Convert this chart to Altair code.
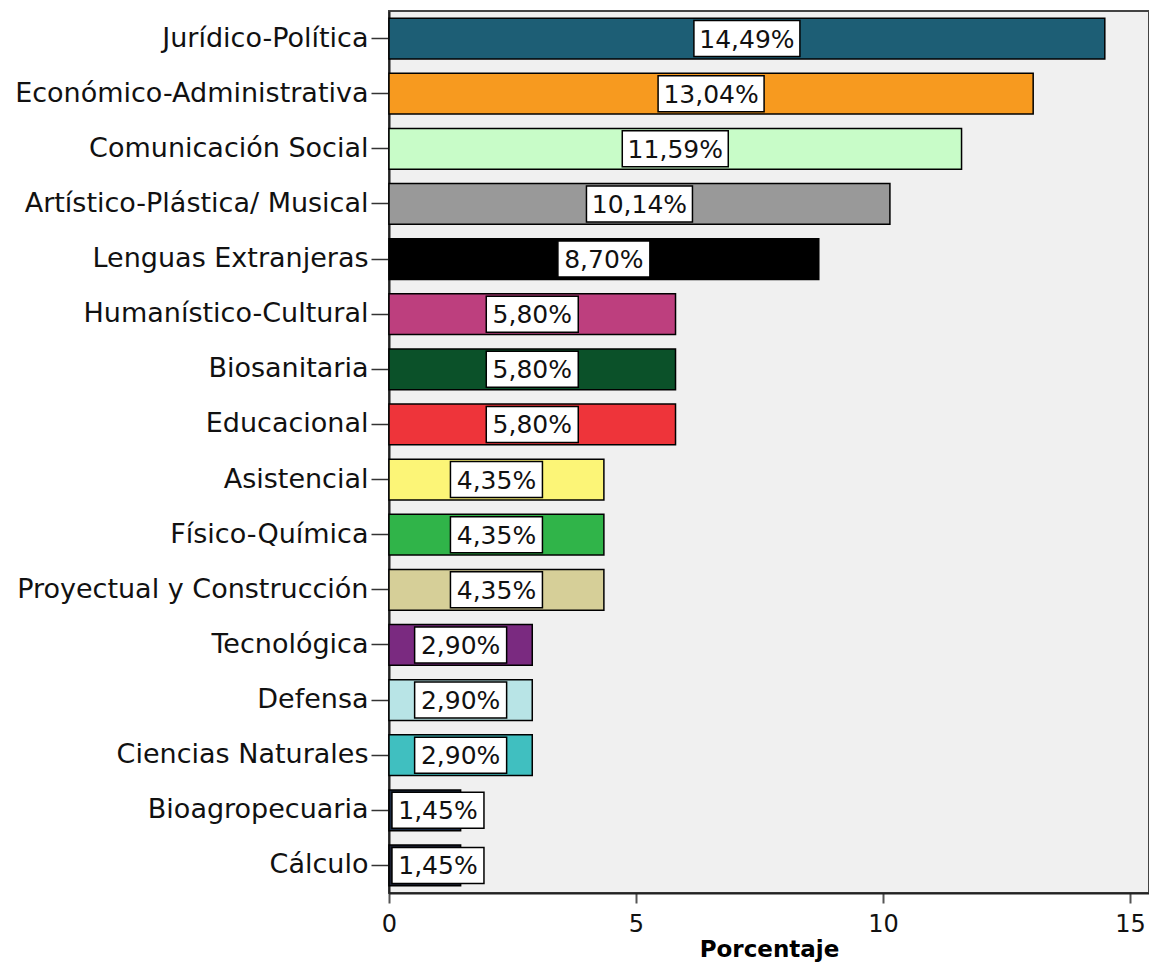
import altair as alt
import pandas as pd

categories = [
    "Jurídico-Política", "Económico-Administrativa", "Comunicación Social",
    "Artístico-Plástica/ Musical", "Lenguas Extranjeras", "Humanístico-Cultural",
    "Biosanitaria", "Educacional", "Asistencial", "Físico-Química",
    "Proyectual y Construcción", "Tecnológica", "Defensa", "Ciencias Naturales",
    "Bioagropecuaria", "Cálculo",
]
values = [14.49, 13.04, 11.59, 10.14, 8.70, 5.80, 5.80, 5.80, 4.35, 4.35, 4.35,
          2.90, 2.90, 2.90, 1.45, 1.45]
labels = ["14,49%", "13,04%", "11,59%", "10,14%", "8,70%", "5,80%", "5,80%", "5,80%",
          "4,35%", "4,35%", "4,35%", "2,90%", "2,90%", "2,90%", "1,45%", "1,45%"]
colors = ["#1d5e75", "#f79a1f", "#c8fcc8", "#999999", "#000000", "#bd3f7e",
          "#0b5129", "#ee343a", "#fcf577", "#30b449", "#d6cf98", "#7a2a80",
          "#b8e4e6", "#40bfc0", "#1b2a41", "#1a1f30"]
x_ticks = [0, 5, 10, 15]

df = pd.DataFrame({"cat": categories, "val": values, "lab": labels})

FONT = "DejaVu Sans"
W, H = 760, 882
PXU = 49.4
XMAX = W / PXU

yenc = alt.Y(
    "cat:N", sort=categories,
    scale=alt.Scale(paddingInner=0.26, paddingOuter=0.13),
    axis=alt.Axis(title=None, labelFont=FONT, labelFontSize=27, labelColor="#111",
                  labelPadding=3, tickSize=18, tickColor="#333", tickWidth=1.5,
                  domainColor="#222", domainWidth=2, labelLimit=500),
)
xscale = alt.Scale(domain=[0, XMAX], nice=False, zero=True)
xaxis = alt.Axis(title="Porcentaje", values=x_ticks, format="d", grid=False,
                 labelFont=FONT, labelFontSize=24, labelColor="#111", labelPadding=9,
                 labelFlush=False,
                 tickSize=10, tickColor="#555", tickWidth=2,
                 domainColor="#222", domainWidth=2,
                 titleFont=FONT, titleFontSize=23, titleFontWeight="bold",
                 titleColor="#000", titlePadding=2)

base = alt.Chart(df)

bars = base.mark_bar(stroke="black", strokeWidth=1.5).encode(
    x=alt.X("val:Q", scale=xscale, axis=xaxis),
    y=yenc,
    color=alt.Color("cat:N", scale=alt.Scale(domain=categories, range=colors), legend=None),
)

boxed = base.transform_calculate(
    hw=f"(length(datum.lab)*14+22)/2/{PXU}"
).transform_calculate(
    c="max(datum.val/2, datum.hw+0.06)"
).transform_calculate(
    lo="datum.c-datum.hw", hi="datum.c+datum.hw"
)

boxes = boxed.mark_bar(fill="white", stroke="black", strokeWidth=1.5, size=36).encode(
    x=alt.X("lo:Q", scale=xscale, axis=xaxis),
    x2="hi:Q",
    y=yenc,
)

texts = boxed.mark_text(font=FONT, fontSize=25, color="#111", align="center",
                        baseline="middle", dy=1).encode(
    x=alt.X("c:Q", scale=xscale, axis=xaxis),
    y=yenc,
    text="lab:N",
)

chart = alt.layer(bars, boxes, texts).properties(
    width=W, height=H,
    autosize=alt.AutoSizeParams(type="none"),
    padding={"left": 381, "top": 3, "right": 0, "bottom": 71},
    background="white",
).configure_view(
    fill="#f0f0f0", stroke="#444", strokeWidth=2,
)

chart.save("out.html", embed_options={"renderer": "svg", "actions": False})
